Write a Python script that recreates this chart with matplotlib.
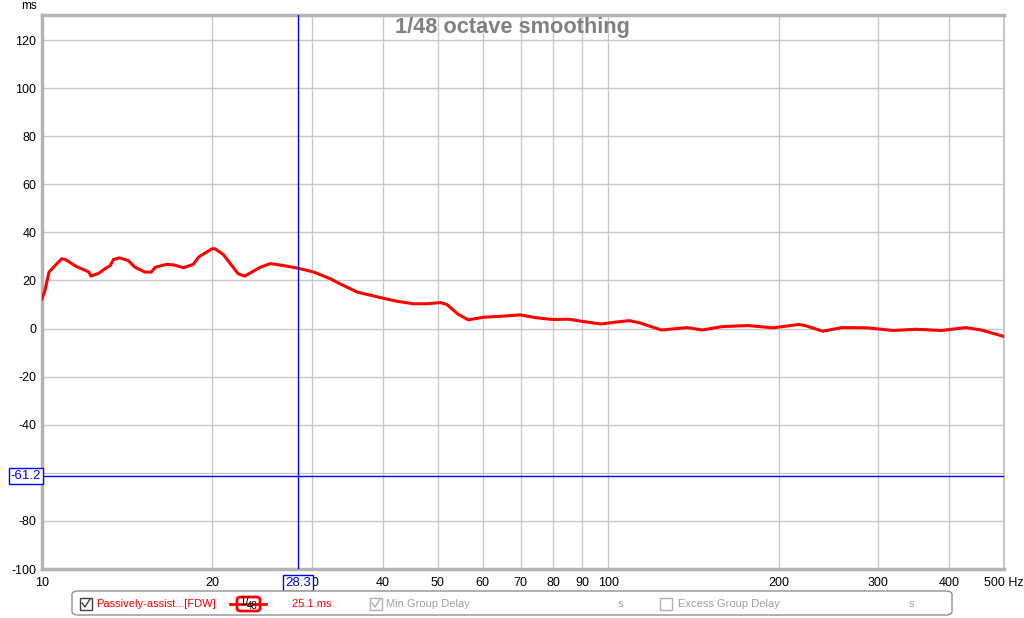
import matplotlib.pyplot as plt
from matplotlib.patches import FancyBboxPatch, Rectangle
from matplotlib.lines import Line2D
from matplotlib.ticker import FixedLocator, NullLocator

plt.rcParams['font.family'] = ['Liberation Sans', 'DejaVu Sans']
plt.rcParams['axes.unicode_minus'] = False

# group delay curve (Hz, ms)
freq = [10.0, 10.12, 10.29, 10.83, 11.0, 11.5, 12.0, 12.1, 12.2, 12.6, 12.92, 13.2,
        13.37, 13.7, 14.2, 14.6, 15.2, 15.6, 15.85, 16.6, 17.07, 17.77, 18.5, 18.9,
        19.97, 20.2, 20.9, 22.2, 22.8, 24.3, 25.3, 26.7, 28.3, 30.2, 32.3, 33.6,
        36.1, 39.4, 42.2, 45.3, 47.8, 50.5, 51.9, 54.2, 56.6, 60.2, 64.7, 69.9,
        74.5, 79.9, 85.0, 90.5, 97.1, 102.5, 108.9, 113.6, 124.1, 137.9, 146.6,
        158.9, 176.4, 195.6, 217.0, 222.7, 239.4, 258.8, 287.1, 318.5, 350.0,
        388.0, 428.0, 456.0, 500.0]
delay = [12.4, 15.8, 23.5, 29.0, 28.7, 25.8, 23.9, 23.5, 21.8, 23.0, 24.9, 26.2,
         28.7, 29.4, 28.3, 25.5, 23.5, 23.5, 25.5, 26.7, 26.5, 25.3, 26.7, 29.7,
         33.2, 33.2, 30.8, 22.8, 21.8, 25.5, 27.0, 26.2, 25.1, 23.5, 20.7, 18.6,
         15.1, 13.0, 11.4, 10.3, 10.3, 10.8, 10.0, 6.1, 3.6, 4.7, 5.1, 5.7,
         4.5, 3.75, 3.9, 2.9, 1.9, 2.6, 3.3, 2.4, -0.6, 0.4, -0.6,
         0.8, 1.25, 0.3, 1.7, 1.25, -1.1, 0.4, 0.3, -0.8, -0.3,
         -0.8, 0.4, -0.6, -3.3]

x_ticks = [10, 20, 30, 40, 50, 60, 70, 80, 90, 100, 200, 300, 400, 500]
x_labels = ['10', '20', '30', '40', '50', '60', '70', '80', '90', '100', '200', '300', '400', '500 Hz']
y_ticks = [-100, -80, -60, -40, -20, 0, 20, 40, 60, 80, 100, 120]
# -60 is hidden behind the cursor readout in the original
y_labels = ['-100', '-80', '', '-40', '-20', '0', '20', '40', '60', '80', '100', '120']
cursor_x = 28.3
cursor_y = -61.2

W, H = 1024, 618
fig = plt.figure(figsize=(W / 100, H / 100), dpi=100)
ax = fig.add_axes([42 / W, 1 - 569 / H, (1004 - 42) / W, (569 - 15) / H])

ax.set_xscale('log')
ax.set_xlim(10, 500)
ax.set_ylim(-100, 130.4)

ax.xaxis.set_major_locator(FixedLocator(x_ticks))
ax.xaxis.set_minor_locator(NullLocator())
ax.set_xticklabels(x_labels)
ax.set_yticks(y_ticks)
ax.set_yticklabels(y_labels)
ax.tick_params(length=0, labelsize=9, pad=4)
ax.tick_params(axis='x', pad=6)
ax.grid(True, color='#c8c8c8', linewidth=1)
for s in ax.spines.values():
    s.set_color('#b4b4b4')
    s.set_linewidth(2.5)
ax.spines['right'].set_color('#c8c8c8')
ax.spines['right'].set_linewidth(1.5)

ax.plot(freq, delay, color='#ff0000', linewidth=2.2, zorder=4)

# cursor lines
ax.axvline(cursor_x, color='#0000ff', linewidth=1, zorder=5)
ax.axhline(cursor_y, color='#0000ff', linewidth=1, zorder=5)
box = dict(boxstyle='square,pad=0.15', facecolor='white', edgecolor='#0000ff', linewidth=1)
ax.text(-0.001, cursor_y, '-61.2', transform=ax.get_yaxis_transform(), ha='right', va='center',
        fontsize=9.5, color='#0000ff', bbox=box, clip_on=False, zorder=10)
ax.text(cursor_x, -0.025, '28.3', transform=ax.get_xaxis_transform(), ha='center', va='center',
        fontsize=9.5, color='#0000ff', bbox=box, clip_on=False, zorder=10)

fig.text(512 / W, 1 - 27 / H, '1/48 octave smoothing', ha='center', va='center',
         fontsize=15.7, fontweight='bold', color='#808080')
fig.text(29 / W, 1 - 6 / H, 'ms', ha='center', va='center', fontsize=8.5)


# bottom legend bar, pixel positions converted to figure fractions
def fx(x):
    return x / W


def fy(y):
    return 1 - y / H


fig.add_artist(FancyBboxPatch((fx(72), fy(615)), fx(952) - fx(72), fy(591) - fy(615),
                              boxstyle='round,pad=0,rounding_size=0.006', transform=fig.transFigure,
                              facecolor='white', edgecolor='#909090', linewidth=1))


def checkbox(x, checked, color):
    fig.add_artist(Rectangle((fx(x), fy(610)), 12 / W, 12 / H, transform=fig.transFigure,
                             facecolor='white', edgecolor=color, linewidth=1))
    if checked:
        fig.add_artist(Line2D([fx(x + 2), fx(x + 5), fx(x + 10)], [fy(603), fy(607), fy(599)],
                              transform=fig.transFigure, color=color, linewidth=1))


checkbox(80, True, '#404040')
fig.text(fx(96), fy(604), 'Passively-assist...[FDW]', color='#ff0000', fontsize=8, va='center')
fig.add_artist(Line2D([fx(230), fx(266)], [fy(604), fy(604)], transform=fig.transFigure,
                      color='#ff0000', linewidth=2))
fig.add_artist(FancyBboxPatch((fx(237), fy(611)), fx(260) - fx(237), fy(597) - fy(611),
                              boxstyle='round,pad=0,rounding_size=0.004', transform=fig.transFigure,
                              facecolor='white', edgecolor='#ff0000', linewidth=2))
fig.text(fx(239), fy(602), '1/', color='black', fontsize=8.5, va='center')
fig.text(fx(247), fy(606), '48', color='black', fontsize=7, va='center')
fig.text(fx(292), fy(604), '25.1 ms', color='#ff0000', fontsize=8, va='center')
checkbox(370, True, '#b0b0b0')
fig.text(fx(386), fy(604), 'Min Group Delay', color='#a0a0a0', fontsize=8, va='center')
fig.text(fx(618), fy(604), 's', color='#a0a0a0', fontsize=8, va='center')
checkbox(660, False, '#b0b0b0')
fig.text(fx(678), fy(604), 'Excess Group Delay', color='#a0a0a0', fontsize=8, va='center')
fig.text(fx(909), fy(604), 's', color='#a0a0a0', fontsize=8, va='center')

fig.savefig('out.png', dpi=100)
